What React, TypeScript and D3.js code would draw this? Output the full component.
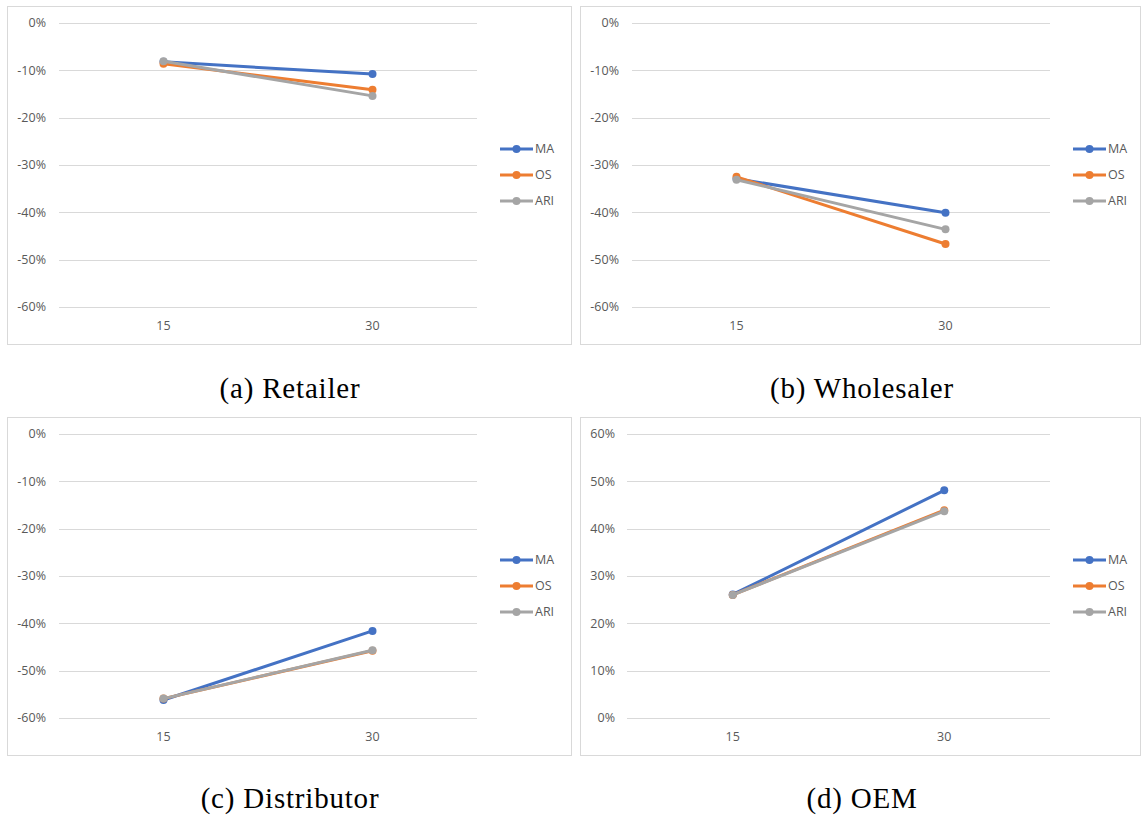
import React from "react";
import * as d3 from "d3";

// ---------- data ----------
const categories = ["15", "30"];
const seriesNames = ["MA", "OS", "ARI"];
const seriesColors = ["#4472C4", "#ED7D31", "#A5A5A5"];

const retailerMA = [-0.082, -0.108];
const retailerOS = [-0.086, -0.141];
const retailerARI = [-0.081, -0.154];

const wholesalerMA = [-0.329, -0.401];
const wholesalerOS = [-0.325, -0.467];
const wholesalerARI = [-0.331, -0.436];

const distributorMA = [-0.562, -0.416];
const distributorOS = [-0.559, -0.458];
const distributorARI = [-0.559, -0.457];

const oemMA = [0.261, 0.481];
const oemOS = [0.26, 0.439];
const oemARI = [0.26, 0.437];

const negTicks = [0, -0.1, -0.2, -0.3, -0.4, -0.5, -0.6];
const posTicks = [0, 0.1, 0.2, 0.3, 0.4, 0.5, 0.6];

const captions = ["(a) Retailer", "(b) Wholesaler", "(c) Distributor", "(d) OEM"];

const locale = d3.formatLocale({
  decimal: ".",
  thousands: ",",
  grouping: [3],
  currency: ["$", ""],
  minus: "-",
});
const pct = locale.format(".0%");

const AXIS_FONT = "'Open Sans', 'Noto Sans', sans-serif";
const TEXT_COLOR = "#595959";
const GRID = "#D9D9D9";
const FS = 12.5;

type PanelProps = {
  box: [number, number, number, number];
  gridX: [number, number];
  gridY: [number, number];
  labelRight: number;
  domain: [number, number];
  ticks: number[];
  series: number[][];
  legendX: number;
  legendY: number;
};

function Panel(p: PanelProps) {
  const [bx, by, bw, bh] = p.box;
  const x = d3.scaleBand<string>().domain(categories).range(p.gridX);
  const y = d3.scaleLinear().domain(p.domain).range([p.gridY[1], p.gridY[0]]);
  const cx = (c: string) => (x(c) as number) + x.bandwidth() / 2;
  const line = d3
    .line<number>()
    .x((_, i) => cx(categories[i]))
    .y((v) => y(v));
  return (
    <g>
      <rect x={bx + 0.5} y={by + 0.5} width={bw} height={bh} fill="#fff" stroke={GRID} strokeWidth={1} />
      {p.ticks.map((t) => (
        <g key={t}>
          <line x1={p.gridX[0]} x2={p.gridX[1]} y1={Math.round(y(t)) + 0.5} y2={Math.round(y(t)) + 0.5} stroke={GRID} strokeWidth={1} />
          <text x={p.labelRight} y={y(t)} dy="0.35em" textAnchor="end" fontFamily={AXIS_FONT} fontSize={FS} fill={TEXT_COLOR}>
            {pct(t)}
          </text>
        </g>
      ))}
      {categories.map((c) => (
        <text key={c} x={cx(c)} y={p.gridY[1] + 19} dy="0.35em" textAnchor="middle" fontFamily={AXIS_FONT} fontSize={FS} fill={TEXT_COLOR}>
          {c}
        </text>
      ))}
      {p.series.map((s, si) => (
        <g key={si}>
          <path d={line(s) as string} fill="none" stroke={seriesColors[si]} strokeWidth={3} strokeLinecap="round" />
          {s.map((v, i) => (
            <circle key={i} cx={cx(categories[i])} cy={y(v)} r={4} fill={seriesColors[si]} />
          ))}
        </g>
      ))}
      {seriesNames.map((n, i) => {
        const ly = p.legendY + i * 26;
        return (
          <g key={n}>
            <line x1={p.legendX} x2={p.legendX + 33} y1={ly} y2={ly} stroke={seriesColors[i]} strokeWidth={3} />
            <circle cx={p.legendX + 16.5} cy={ly} r={4} fill={seriesColors[i]} />
            <text x={p.legendX + 35} y={ly} dy="0.35em" fontFamily={AXIS_FONT} fontSize={FS} fill={TEXT_COLOR}>
              {n}
            </text>
          </g>
        );
      })}
    </g>
  );
}

export default function App() {
  const captionFont = "'Liberation Serif', 'Times New Roman', serif";
  return (
    <svg
      width={1141}
      height={818}
      style={{ position: "absolute", left: 0, top: 0, background: "#fff" }}
    >
      <rect width={1141} height={818} fill="#fff" />
      <Panel
        box={[7, 6, 564, 338]}
        gridX={[59, 477]}
        gridY={[23, 307]}
        labelRight={46}
        domain={[-0.6, 0]}
        ticks={negTicks}
        series={[retailerMA, retailerOS, retailerARI]}
        legendX={500}
        legendY={149}
      />
      <Panel
        box={[580, 6, 560, 338]}
        gridX={[632, 1050]}
        gridY={[23, 307]}
        labelRight={619}
        domain={[-0.6, 0]}
        ticks={negTicks}
        series={[wholesalerMA, wholesalerOS, wholesalerARI]}
        legendX={1073}
        legendY={149}
      />
      <Panel
        box={[7, 417, 564, 338]}
        gridX={[59, 477]}
        gridY={[434, 718]}
        labelRight={46}
        domain={[-0.6, 0]}
        ticks={negTicks}
        series={[distributorMA, distributorOS, distributorARI]}
        legendX={500}
        legendY={560}
      />
      <Panel
        box={[580, 417, 560, 338]}
        gridX={[627, 1050]}
        gridY={[434, 718]}
        labelRight={615}
        domain={[0, 0.6]}
        ticks={posTicks}
        series={[oemMA, oemOS, oemARI]}
        legendX={1073}
        legendY={560}
      />
      {captions.map((c, i) => (
        <text
          key={c}
          x={i % 2 === 0 ? 290 : 862}
          y={i < 2 ? 398 : 808}
          textAnchor="middle"
          fontFamily={captionFont}
          fontSize={29}
          letterSpacing={0.8}
          fill="#000"
        >
          {c}
        </text>
      ))}
    </svg>
  );
}
